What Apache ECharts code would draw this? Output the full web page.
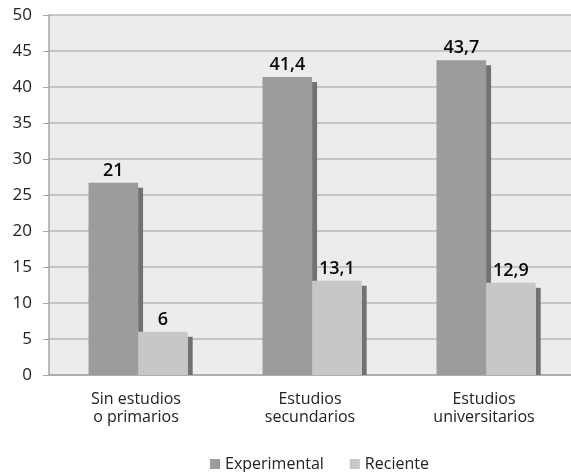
<!DOCTYPE html>
<html><head><meta charset="utf-8">
<script src="https://cdn.jsdelivr.net/npm/echarts@6/dist/echarts.min.js"></script>
<style>html,body{margin:0;padding:0;background:#fff}#c{width:571px;height:472px}</style>
</head><body><div id="c"></div>
<script>
const categories = ['Sin estudios\no primarios', 'Estudios\nsecundarios', 'Estudios\nuniversitarios'];
const seriesNames = ['Experimental', 'Reciente'];
const experimental = [26.7, 41.4, 43.7];
const reciente = [6, 13.1, 12.8];
const experimentalLabels = ['21', '41,4', '43,7'];
const recienteLabels = ['6', '13,1', '12,9'];
const yTicks = { min: 0, max: 50, interval: 5 };

const colors = ['#9b9c9e', '#c6c7c9'];
const shadowColor = '#717274';
const FONT = '"Open Sans", sans-serif';

function makeSeries(idx, values, labels) {
  return {
    type: 'custom',
    name: seriesNames[idx],
    itemStyle: { color: colors[idx] },
    data: values.map((v, i) => [i, v]),
    renderItem: function (params, api) {
      const ci = api.value(0);
      const val = api.value(1);
      const top = api.coord([ci, val]);
      const base = api.coord([ci, 0]);
      const band = api.size([1, 0])[0];
      const bw = band * 0.285;
      const shift = band * 0.012;
      const left = top[0] - bw + shift + idx * bw;
      const h = base[1] - top[1];
      const d = 5;
      return {
        type: 'group',
        children: [
          { type: 'rect', shape: { x: left + bw, y: top[1] + d, width: d, height: Math.max(h - d, 0) }, style: { fill: shadowColor } },
          { type: 'rect', shape: { x: left, y: top[1], width: bw, height: h }, style: { fill: colors[idx] } },
          { type: 'text', x: left + bw / 2, y: top[1] - 12, style: { text: labels[params.dataIndex], fill: '#0a0a0a', font: '600 18px ' + FONT, align: 'center', verticalAlign: 'middle' } }
        ]
      };
    }
  };
}

const chart = echarts.init(document.getElementById('c'));
chart.setOption({
  animation: false,
  textStyle: { fontFamily: FONT },
  grid: { left: 49, top: 15, width: 531, height: 360, show: true, backgroundColor: '#ebeceb', borderWidth: 0 },
  legend: {
    top: 451, left: 205, icon: 'rect', itemWidth: 10, itemHeight: 10, itemGap: 26,
    textStyle: { fontSize: 16, color: '#222', fontFamily: FONT },
    data: seriesNames
  },
  xAxis: {
    type: 'category', data: categories,
    axisLine: { lineStyle: { color: '#a5a6a6', width: 1.5 } },
    axisTick: { alignWithLabel: false, length: 6, lineStyle: { color: '#a5a6a6' } },
    axisLabel: { fontSize: 16, color: '#222', lineHeight: 18, margin: 15, fontFamily: FONT }
  },
  yAxis: {
    type: 'value', min: yTicks.min, max: yTicks.max, interval: yTicks.interval,
    axisLine: { show: true, lineStyle: { color: '#a5a6a6', width: 1.5 } },
    axisTick: { show: true, length: 6, lineStyle: { color: '#a5a6a6' } },
    axisLabel: { fontSize: 17, color: '#222', margin: 17, fontFamily: FONT },
    splitLine: { lineStyle: { color: '#b8b9b9', width: 1.5 } }
  },
  series: [makeSeries(0, experimental, experimentalLabels), makeSeries(1, reciente, recienteLabels)]
});
</script></body></html>
